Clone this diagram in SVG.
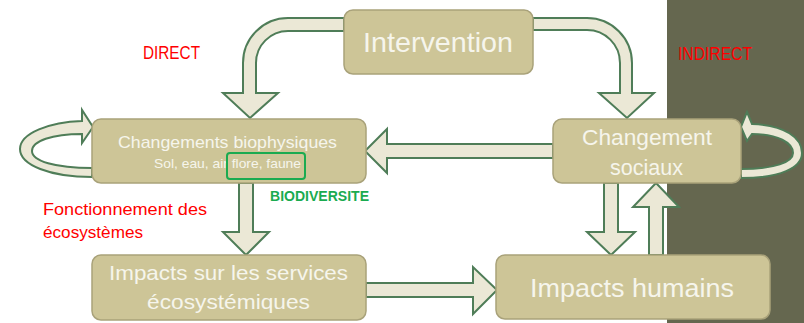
<svg xmlns="http://www.w3.org/2000/svg" width="804" height="323" viewBox="0 0 804 323">
<defs>
<style>
.box{fill:#cdc597;stroke:#a9a27a;stroke-width:1.5}
.arr{fill:#ebe8d6;stroke:#4f7d58;stroke-width:2;stroke-linejoin:miter}
.t{font-family:"Liberation Sans",Arial,sans-serif;fill:#f6f5ec}
.red{font-family:"Liberation Sans",Arial,sans-serif;fill:#ff0000}
.grn{font-family:"Liberation Sans",Arial,sans-serif;fill:#1aab50;font-weight:bold}
</style>
</defs>
<rect x="0" y="0" width="804" height="323" fill="#ffffff"/>
<rect x="667" y="0" width="137" height="323" fill="#65674f"/>
<g id="connectors">
<path class="arr" d="M344,18 L288,18 A45,45 0 0 0 243,63 L243,93 L223,93 L250,118 L278,93 L256,93 L256,63 A32,32 0 0 1 288,31 L344,31 Z"/>
<path class="arr" d="M533,18 L587,18 A45,45 0 0 1 632,63 L632,93 L654,93 L627,118 L599,93 L620,93 L620,63 A33,33 0 0 0 587,30 L533,30 Z"/>
<path class="arr" d="M553,144 L387,144 L387,129 L365,151 L387,173 L387,158 L553,158 Z"/>
<path class="arr" d="M239,183 L239,232 L223,232 L246,255 L269,232 L253,232 L253,183 Z"/>
<path class="arr" d="M366,283 L473,283 L473,267 L497,290 L473,314 L473,297 L366,297 Z"/>
<path class="arr" d="M604,183 L604,232 L587,232 L611,255 L635,232 L618,232 L618,183 Z"/>
<path class="arr" d="M649,255 L649,207 L633,207 L656,183 L679,207 L663,207 L663,255 Z"/>
<path class="arr" d="M92,177 C50,177 20,165 20,149 C20,133 50,122 82,121 L82,110 L93,127 L82,143 L82,134 C52,134 32,141 32,151 C32,161 55,168 92,168 Z"/>
<path class="arr" d="M741,178 C780,178 802,168 802,153 C802,138 785,125 752,124 L747,112 L741,127 L747,141 L752,134 C778,134 793,143 793,153 C793,162 775,169 741,169 Z"/>
</g>
<g id="intervention">
<rect class="box" x="344" y="10" width="189" height="64" rx="9"/>
<text class="t" x="363" y="52" font-size="28" textLength="150" lengthAdjust="spacingAndGlyphs">Intervention</text>
</g>
<g id="biophysique">
<rect class="box" x="92" y="119" width="274" height="64" rx="9"/>
<text class="t" x="118" y="148" font-size="17" textLength="219" lengthAdjust="spacingAndGlyphs">Changements biophysiques</text>
<text class="t" x="154" y="168" font-size="13" textLength="147" lengthAdjust="spacingAndGlyphs">Sol, eau, air flore, faune</text>
<rect x="227" y="153" width="78" height="26" rx="3" fill="none" stroke="#1aab50" stroke-width="2"/>
</g>
<g id="sociaux">
<rect class="box" x="553" y="119" width="188" height="64" rx="9"/>
<text class="t" x="582" y="145" font-size="22" textLength="130" lengthAdjust="spacingAndGlyphs">Changement</text>
<text class="t" x="610" y="175" font-size="22" textLength="73" lengthAdjust="spacingAndGlyphs">sociaux</text>
</g>
<g id="services">
<rect class="box" x="92" y="255" width="274" height="65" rx="9"/>
<text class="t" x="109" y="280" font-size="21" textLength="239" lengthAdjust="spacingAndGlyphs">Impacts sur les services</text>
<text class="t" x="147" y="309" font-size="21" textLength="163" lengthAdjust="spacingAndGlyphs">écosystémiques</text>
</g>
<g id="humains">
<rect class="box" x="496" y="255" width="274" height="64" rx="9"/>
<text class="t" x="530" y="297" font-size="25" textLength="204" lengthAdjust="spacingAndGlyphs">Impacts humains</text>
</g>
<g id="labels">
<text class="red" x="143" y="59" font-size="18" textLength="57" lengthAdjust="spacingAndGlyphs">DIRECT</text>
<text class="red" x="678" y="60" font-size="18" textLength="74" lengthAdjust="spacingAndGlyphs">INDIRECT</text>
<text class="grn" x="270" y="201" font-size="14" textLength="99" lengthAdjust="spacingAndGlyphs">BIODIVERSITE</text>
<text class="red" x="43" y="215" font-size="17" textLength="164" lengthAdjust="spacingAndGlyphs">Fonctionnement des</text>
<text class="red" x="43" y="238" font-size="17" textLength="100" lengthAdjust="spacingAndGlyphs">écosystèmes</text>
</g>
</svg>
